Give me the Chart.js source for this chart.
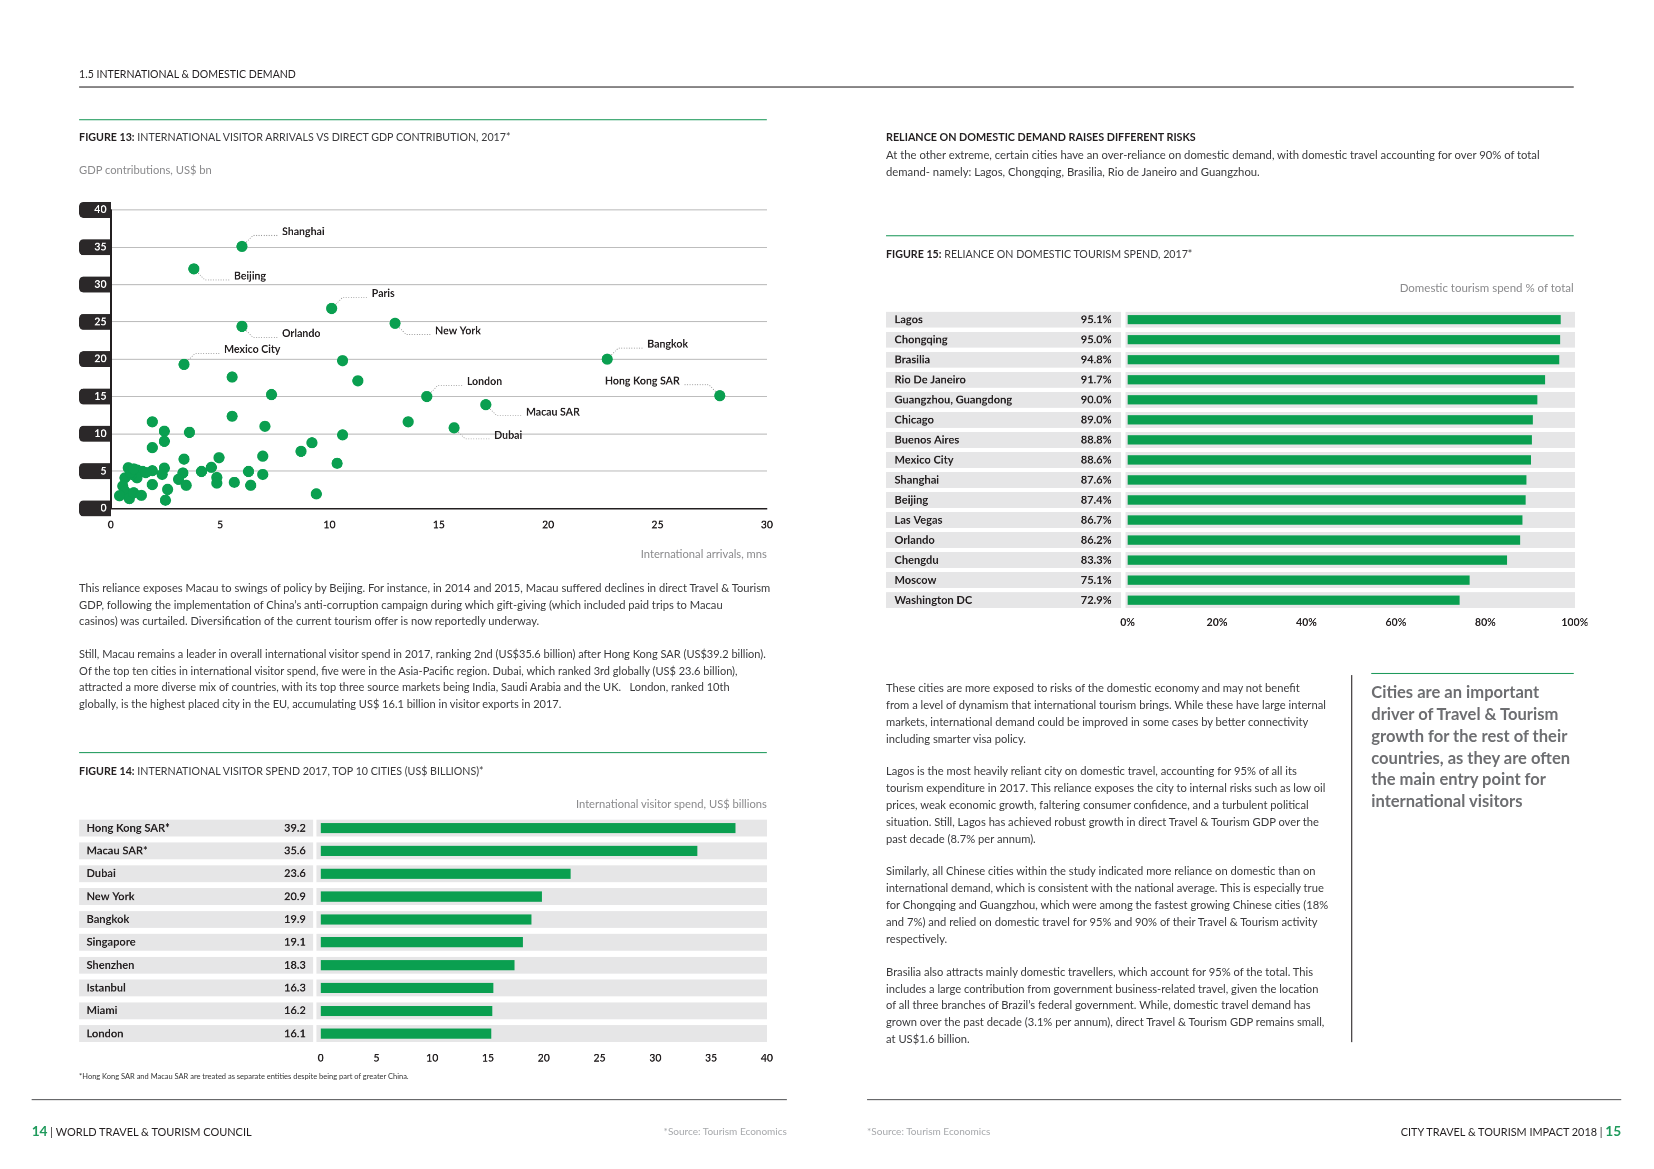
<!DOCTYPE html>
<html>
<head>
<meta charset="utf-8">
<script src="https://cdn.jsdelivr.net/npm/chart.js@4.4.1/dist/chart.umd.min.js"></script>
<style>
  html, body { margin: 0; padding: 0; background: #fff; overflow: hidden; }
  #page {
    position: absolute; left: 0; top: 0; width: 1568px; height: 1108px;
    transform-origin: 0 0; transform: scale(1.0548);
    font-family: Lato, 'Open Sans', sans-serif; color: #3a3a3c;
  }
  .t    { position: absolute; white-space: nowrap; }
  .line { position: absolute; height: 0; }
  .p    { position: absolute; font-size: 10.6px; line-height: 16px; color: #3a3a3c; }
  .p div { white-space: nowrap; }
  .gap  { height: 15px; }
  .fig  { font-size: 10.1px; color: #3a3a3c; }
  .fig b { color: #231f20; }
  .unit { font-size: 10.6px; color: #8a8a8c; }
  canvas { position: absolute; }
</style>
</head>
<body>
<div id="page">
  <!-- header -->
  <div class="t" style="left:75px;top:64px;font-size:10px;color:#231f20;">1.5 INTERNATIONAL &amp; DOMESTIC DEMAND</div>
  <div class="line" style="left:75px;top:82px;width:1417px;border-top:1.2px solid #231f20;"></div>

  <!-- figure 13 -->
  <div class="line" style="left:75px;top:113px;width:652px;border-top:1.5px solid #1f9a5c;"></div>
  <div class="t fig" style="left:75px;top:124px;"><b>FIGURE 13:</b> INTERNATIONAL VISITOR ARRIVALS VS DIRECT GDP CONTRIBUTION, 2017*</div>
  <div class="t unit" style="left:75px;top:155px;">GDP contributions, US$ bn</div>
  <canvas id="scatter" width="690" height="335" style="left:55px;top:185px;"></canvas>
  <div class="t unit" style="right:841px;top:519px;">International arrivals, mns</div>

  <div class="p" style="left:75px;top:549px;">
    <div>This reliance exposes Macau to swings of policy by Beijing. For instance, in 2014 and 2015, Macau suffered declines in direct Travel &amp; Tourism</div>
    <div>GDP, following the implementation of China’s anti-corruption campaign during which gift-giving (which included paid trips to Macau</div>
    <div>casinos) was curtailed. Diversification of the current tourism offer is now reportedly underway.</div>
  </div>
  <div class="p" style="left:75px;top:613px;line-height:15.7px;font-size:10.45px;">
    <div>Still, Macau remains a leader in overall international visitor spend in 2017, ranking 2nd (US$35.6 billion) after Hong Kong SAR (US$39.2 billion).</div>
    <div>Of the top ten cities in international visitor spend, five were in the Asia-Pacific region. Dubai, which ranked 3rd globally (US$ 23.6 billion),</div>
    <div>attracted a more diverse mix of countries, with its top three source markets being India, Saudi Arabia and the UK.&nbsp;&nbsp; London, ranked 10th</div>
    <div>globally, is the highest placed city in the EU, accumulating US$ 16.1 billion in visitor exports in 2017.</div>
  </div>

  <!-- figure 14 -->
  <div class="line" style="left:75px;top:713px;width:652px;border-top:1.5px solid #1f9a5c;"></div>
  <div class="t fig" style="left:75px;top:725px;"><b>FIGURE 14:</b> INTERNATIONAL VISITOR SPEND 2017, TOP 10 CITIES (US$ BILLIONS)*</div>
  <div class="t unit" style="right:841px;top:756px;">International visitor spend, US$ billions</div>
  <canvas id="spend" width="665" height="245" style="left:75px;top:770px;"></canvas>
  <div class="t" style="left:75px;top:1016px;font-size:7.1px;color:#333;">*Hong Kong SAR and Macau SAR are treated as separate entities despite being part of greater China.</div>

  <!-- right page intro -->
  <div class="t" style="left:840px;top:124px;font-size:10.2px;font-weight:700;color:#231f20;">RELIANCE ON DOMESTIC DEMAND RAISES DIFFERENT RISKS</div>
  <div class="p" style="left:840px;top:139px;font-size:10.7px;">
    <div>At the other extreme, certain cities have an over-reliance on domestic demand, with domestic travel accounting for over 90% of total</div>
    <div>demand- namely: Lagos, Chongqing, Brasilia, Rio de Janeiro and Guangzhou.</div>
  </div>

  <!-- figure 15 -->
  <div class="line" style="left:840px;top:223px;width:652px;border-top:1.5px solid #1f9a5c;"></div>
  <div class="t fig" style="left:840px;top:235px;"><b>FIGURE 15:</b> RELIANCE ON DOMESTIC TOURISM SPEND, 2017*</div>
  <div class="t unit" style="right:76px;top:266px;font-size:10.9px;">Domestic tourism spend % of total</div>
  <canvas id="domestic" width="665" height="312" style="left:840px;top:290px;"></canvas>

  <!-- right page body -->
  <div class="p" style="left:840px;top:644px;">
    <div>These cities are more exposed to risks of the domestic economy and may not benefit</div>
    <div>from a level of dynamism that international tourism brings. While these have large internal</div>
    <div>markets, international demand could be improved in some cases by better connectivity</div>
    <div>including smarter visa policy.</div>
    <div class="gap"></div>
    <div>Lagos is the most heavily reliant city on domestic travel, accounting for 95% of all its</div>
    <div>tourism expenditure in 2017. This reliance exposes the city to internal risks such as low oil</div>
    <div>prices, weak economic growth, faltering consumer confidence, and a turbulent political</div>
    <div>situation. Still, Lagos has achieved robust growth in direct Travel &amp; Tourism GDP over the</div>
    <div>past decade (8.7% per annum).</div>
    <div class="gap"></div>
    <div>Similarly, all Chinese cities within the study indicated more reliance on domestic than on</div>
    <div>international demand, which is consistent with the national average. This is especially true</div>
    <div>for Chongqing and Guangzhou, which were among the fastest growing Chinese cities (18%</div>
    <div>and 7%) and relied on domestic travel for 95% and 90% of their Travel &amp; Tourism activity</div>
    <div>respectively.</div>
    <div class="gap"></div>
    <div>Brasilia also attracts mainly domestic travellers, which account for 95% of the total. This</div>
    <div>includes a large contribution from government business-related travel, given the location</div>
    <div>of all three branches of Brazil’s federal government. While, domestic travel demand has</div>
    <div>grown over the past decade (3.1% per annum), direct Travel &amp; Tourism GDP remains small,</div>
    <div>at US$1.6 billion.</div>
  </div>
  <div class="line" style="left:1281px;top:640px;height:348px;border-left:1.2px solid #231f20;"></div>
  <div class="line" style="left:1300px;top:638px;width:192px;border-top:1.5px solid #1f9a5c;"></div>
  <div class="t" style="left:1300px;top:646px;font-size:15.7px;line-height:20.6px;font-weight:700;color:#6d6e71;">
    Cities are an important<br>driver of Travel &amp; Tourism<br>growth for the rest of their<br>countries, as they are often<br>the main entry point for<br>international visitors
  </div>

  <!-- footer -->
  <div class="line" style="left:30px;top:1042px;width:716px;border-top:1.2px solid #58595b;"></div>
  <div class="line" style="left:822px;top:1042px;width:715px;border-top:1.2px solid #58595b;"></div>
  <div class="t" style="left:30px;top:1064px;font-size:10.4px;color:#231f20;"><span style="color:#1f9a5c;font-size:13px;font-weight:700;">14</span> | WORLD TRAVEL &amp; TOURISM COUNCIL</div>
  <div class="t" style="right:822px;top:1067px;font-size:9.5px;color:#a7a9ac;">*Source: Tourism Economics</div>
  <div class="t" style="left:822px;top:1067px;font-size:9.5px;color:#a7a9ac;">*Source: Tourism Economics</div>
  <div class="t" style="right:31px;top:1064px;font-size:10.3px;color:#231f20;">CITY TRAVEL &amp; TOURISM IMPACT 2018 | <span style="color:#1f9a5c;font-size:13px;font-weight:700;">15</span></div>
</div>

<script>
// figure 13: international arrivals (mns) vs direct GDP (US$ bn)
const arrivals = [
  6.0, 3.8, 10.1, 13.0, 6.0, 3.35, 22.7, 27.85, 14.45, 17.15, 15.7,
  10.6, 11.3, 5.55, 7.35, 5.55, 7.05, 13.6, 10.6, 9.2, 8.7, 10.35, 9.4,
  6.95, 6.95, 4.95, 4.6, 3.35, 4.15, 6.3, 4.85, 4.85, 5.65, 6.4, 3.3, 3.1, 3.45, 2.6, 2.5,
  1.9, 2.45, 2.45, 3.6, 1.9, 2.45, 2.35, 1.9, 1.9, 1.45, 1.2, 1.2, 0.95, 0.8, 0.65, 0.55,
  0.65, 0.4, 0.85, 1.05, 1.4, 1.6, 0.9, 1.05
];
const gdp = [
  35.1, 32.1, 26.8, 24.8, 24.4, 19.3, 20.0, 15.1, 15.0, 13.9, 10.8,
  19.8, 17.1, 17.6, 15.25, 12.35, 11.0, 11.6, 9.85, 8.8, 7.65, 6.05, 1.95,
  7.0, 4.55, 6.8, 5.5, 6.6, 4.95, 4.95, 4.15, 3.4, 3.5, 3.1, 4.75, 3.9, 3.1, 2.55, 1.1,
  11.6, 10.35, 9.0, 10.2, 8.15, 5.4, 4.55, 3.2, 5.05, 4.95, 5.15, 4.1, 4.55, 5.45, 4.1, 3.0,
  2.3, 1.7, 1.3, 2.1, 1.75, 4.8, 4.9, 5.3
];
// names for the first points, the rest are unlabelled
const pointNames = ['Shanghai', 'Beijing', 'Paris', 'New York', 'Orlando', 'Mexico City',
                    'Bangkok', 'Hong Kong SAR', 'London', 'Macau SAR', 'Dubai'];
const gdpTicks     = [0, 5, 10, 15, 20, 25, 30, 35, 40];
const arrivalTicks = [0, 5, 10, 15, 20, 25, 30];

// figure 14
const spendCities = ['Hong Kong SAR*', 'Macau SAR*', 'Dubai', 'New York', 'Bangkok',
                     'Singapore', 'Shenzhen', 'Istanbul', 'Miami', 'London'];
const spendValues = [39.2, 35.6, 23.6, 20.9, 19.9, 19.1, 18.3, 16.3, 16.2, 16.1];
const spendTicks  = [0, 5, 10, 15, 20, 25, 30, 35, 40];

// figure 15
const domCities = ['Lagos', 'Chongqing', 'Brasilia', 'Rio De Janeiro', 'Guangzhou, Guangdong',
                   'Chicago', 'Buenos Aires', 'Mexico City', 'Shanghai', 'Beijing',
                   'Las Vegas', 'Orlando', 'Chengdu', 'Moscow', 'Washington DC'];
const domShare  = [95.1, 95.0, 94.8, 91.7, 90.0, 89.0, 88.8, 88.6, 87.6, 87.4, 86.7, 86.2, 83.3, 75.1, 72.9];
const domTicks  = [0, 20, 40, 60, 80, 100];

const GREEN = '#0a9f50';
const DARK  = '#231f20';
const FONT  = 'Lato, "Open Sans", sans-serif';

// which way each callout goes: [horizontal, vertical]
const calloutDir = {
  'Shanghai': [1, -1], 'Beijing': [1, 1], 'Paris': [1, -1], 'New York': [1, 1],
  'Orlando': [1, 1], 'Mexico City': [1, -1], 'Bangkok': [1, -1], 'Hong Kong SAR': [-1, -1],
  'London': [1, -1], 'Macau SAR': [1, 1], 'Dubai': [1, 1]
};

const tickBoxes = {
  id: 'tickBoxes',
  beforeDraw(chart) {
    const y = chart.scales.y, ctx = chart.ctx;
    ctx.save();
    ctx.fillStyle = '#2b2829';
    y.ticks.forEach((t, i) => {
      const py = y.getPixelForTick(i);
      ctx.beginPath();
      ctx.roundRect(20, py - 7.5, y.right - 20, 15, [4, 0, 0, 4]);
      ctx.fill();
    });
    ctx.restore();
  }
};

const callouts = {
  id: 'callouts',
  beforeDatasetsDraw(chart) {
    const ctx = chart.ctx, x = chart.scales.x, y = chart.scales.y;
    ctx.save();
    ctx.font = 'bold 10px ' + FONT;
    ctx.textBaseline = 'middle';
    pointNames.forEach((name, i) => {
      const [sx, sy] = calloutDir[name];
      const px = x.getPixelForValue(arrivals[i]);
      const py = y.getPixelForValue(gdp[i]);
      const ex = px + sx * 10.5, ey = py + sy * 10.5;
      const hx = ex + sx * 24;
      ctx.strokeStyle = '#9a9a9a';
      ctx.lineWidth = 0.8;
      ctx.setLineDash([1, 1.4]);
      ctx.beginPath();
      ctx.moveTo(px + sx * 4, py + sy * 4);
      ctx.lineTo(ex, ey);
      ctx.lineTo(hx, ey);
      ctx.stroke();
      ctx.fillStyle = DARK;
      ctx.textAlign = sx > 0 ? 'left' : 'right';
      ctx.fillText(name, hx + sx * 3.5, ey - 3.5);
    });
    ctx.restore();
  }
};

new Chart(document.getElementById('scatter'), {
  type: 'scatter',
  data: {
    datasets: [{
      data: arrivals.map((a, i) => ({ x: a, y: gdp[i] })),
      backgroundColor: GREEN,
      borderWidth: 0,
      pointRadius: 5.3,
      pointHoverRadius: 5.3
    }]
  },
  options: {
    responsive: false,
    devicePixelRatio: 2,
    animation: false,
    layout: { padding: { left: 0, right: 18, top: 14, bottom: 0 } },
    plugins: { legend: { display: false }, tooltip: { enabled: false } },
    scales: {
      x: {
        type: 'linear', min: 0, max: 30,
        afterBuildTicks: s => { s.ticks = arrivalTicks.map(v => ({ value: v })); },
        afterFit: s => { s.height = 38; },
        grid: { display: false, drawTicks: false },
        border: { display: true, color: DARK, width: 1.5 },
        ticks: { color: DARK, padding: 10, font: { family: FONT, size: 10, weight: 'bold' } }
      },
      y: {
        type: 'linear', min: 0, max: 40,
        afterBuildTicks: s => { s.ticks = gdpTicks.map(v => ({ value: v })); },
        afterFit: s => { s.width = 50; },
        grid: { color: '#bdbdbd', lineWidth: 1, drawTicks: false },
        border: { display: true, color: DARK, width: 1.5 },
        ticks: { color: '#ffffff', padding: 4, font: { family: FONT, size: 10, weight: 'bold' } }
      }
    }
  },
  plugins: [tickBoxes, callouts]
});

// grey row bands + value text for the horizontal bar charts
function rowBands(cfg) {
  return {
    id: 'rowBands',
    beforeDraw(chart) {
      const ctx = chart.ctx, y = chart.scales.y, area = chart.chartArea;
      ctx.save();
      ctx.fillStyle = '#e6e6e7';
      chart.data.labels.forEach((lab, i) => {
        const py = y.getPixelForValue(i);
        ctx.fillRect(0, py - cfg.rowH / 2, cfg.labelEnd, cfg.rowH);
        ctx.fillRect(cfg.barBgStart, py - cfg.rowH / 2, area.right - cfg.barBgStart, cfg.rowH);
      });
      ctx.restore();
    },
    afterDatasetsDraw(chart) {
      const ctx = chart.ctx, y = chart.scales.y;
      const vals = chart.data.datasets[0].data;
      ctx.save();
      ctx.fillStyle = DARK;
      ctx.font = 'bold 10.5px ' + FONT;
      ctx.textAlign = 'right';
      ctx.textBaseline = 'middle';
      vals.forEach((v, i) => ctx.fillText(cfg.fmt(v), cfg.valueX, y.getPixelForValue(i)));
      ctx.restore();
    }
  };
}

function barChart(id, labels, values, ticks, opt) {
  return new Chart(document.getElementById(id), {
    type: 'bar',
    data: {
      labels: labels,
      datasets: [{
        data: values,
        xAxisID: 'xb',
        backgroundColor: GREEN,
        barThickness: opt.barH,
        borderWidth: 0
      }]
    },
    options: {
      indexAxis: 'y',
      responsive: false,
      devicePixelRatio: 2,
      animation: false,
      layout: { padding: { left: opt.padLeft, right: opt.padRight, top: opt.padTop, bottom: 0 } },
      plugins: { legend: { display: false }, tooltip: { enabled: false } },
      scales: {
        y: {
          type: 'category',
          afterFit: s => { s.width = opt.axisW; s.paddingTop = 0; s.paddingBottom = 0; },
          grid: { display: false, drawTicks: false },
          border: { display: false },
          ticks: { crossAlign: 'far', color: DARK, font: { family: FONT, size: 10.5, weight: 'bold' } }
        },
        x: {
          type: 'linear', position: 'bottom', min: 0, max: ticks[ticks.length - 1],
          afterBuildTicks: s => { s.ticks = ticks.map(v => ({ value: v })); },
          afterFit: s => { s.height = opt.xH; s.paddingLeft = 0; s.paddingRight = 0; },
          grid: { display: false, drawTicks: false },
          border: { display: false },
          ticks: { color: DARK, padding: opt.tickPad, callback: opt.tickFmt,
                   font: { family: FONT, size: 10, weight: 'bold' } }
        },
        // bars in the original run on a slightly wider scale than the printed ticks
        xb: { type: 'linear', position: 'bottom', display: false, min: 0, max: opt.barMax }
      }
    },
    plugins: [rowBands(opt)]
  });
}

barChart('spend', spendCities, spendValues, spendTicks, {
  barH: 9, rowH: 16, padLeft: 7, padRight: 13, padTop: 4.2, axisW: 222, xH: 24.2, tickPad: 6.5,
  labelEnd: 222, barBgStart: 225, valueX: 215, barMax: 42.2,
  fmt: v => v.toFixed(1), tickFmt: v => v
});

barChart('domestic', domCities, domShare, domTicks, {
  barH: 8, rowH: 15, padLeft: 8, padRight: 12, padTop: 3.5, axisW: 221, xH: 23.5, tickPad: 6,
  labelEnd: 223, barBgStart: 227, valueX: 214, barMax: 98.3,
  fmt: v => v.toFixed(1) + '%', tickFmt: v => v + '%'
});
</script>
</body>
</html>
